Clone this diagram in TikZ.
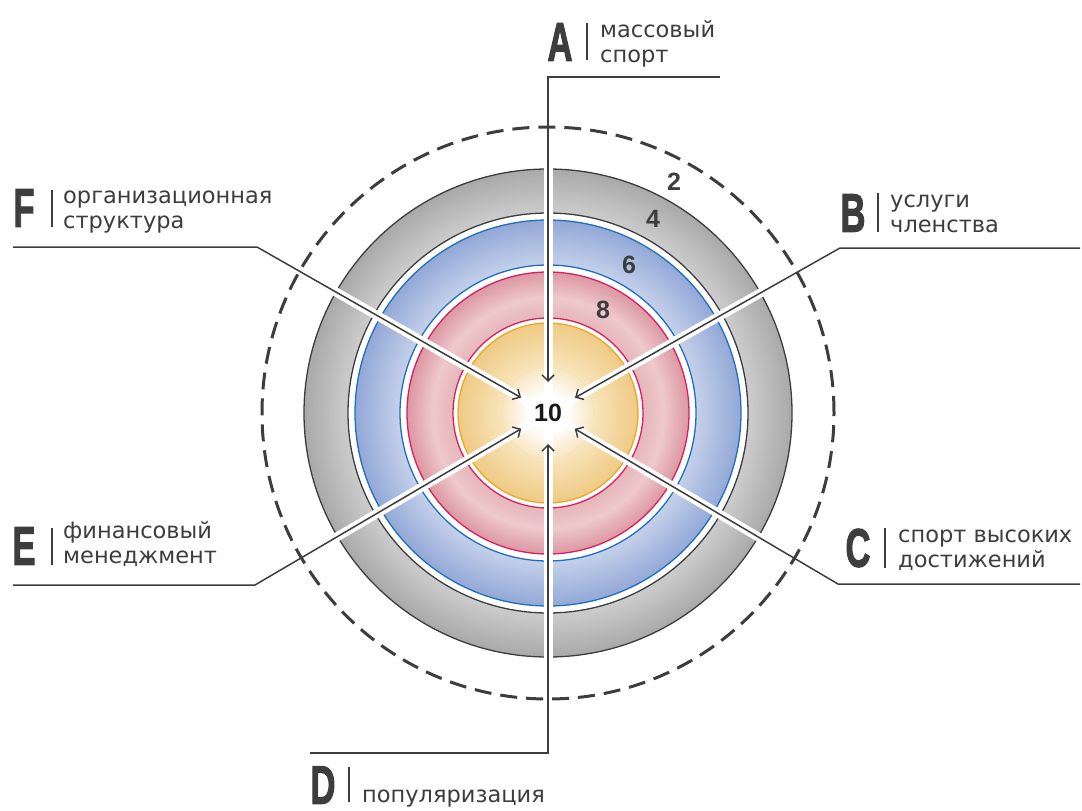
\documentclass[tikz,border=0pt]{standalone}
\usepackage{fontspec}
\setmainfont{DejaVu Sans}
\newfontfamily\capfont{Liberation Sans Bold}[FakeBold=2.5]
\newfontfamily\numfont{Liberation Sans Bold}
\usetikzlibrary{arrows.meta,calc}

\definecolor{inkD}{HTML}{3D3D3D}
\definecolor{grayD}{HTML}{A9A9A9}
\definecolor{grayL}{HTML}{D0D0D0}
\definecolor{blueD}{HTML}{93A8D7}
\definecolor{blueL}{HTML}{C6D2EB}
\definecolor{blueE}{HTML}{1F6FBF}
\definecolor{redD}{HTML}{DC97A3}
\definecolor{redM}{HTML}{E6B6BB}
\definecolor{redL}{HTML}{EEC9CB}
\definecolor{redE}{HTML}{D8205F}
\definecolor{yelD}{HTML}{EFCA84}
\definecolor{yelL}{HTML}{F7E2B6}
\definecolor{yelE}{HTML}{E8A92A}

% the circle's radius is 25bp of the shading
\pgfdeclareradialshading{ringGray}{\pgfpoint{0bp}{0bp}}{color(0bp)=(grayL); color(20bp)=(grayL); color(25bp)=(grayD); color(50bp)=(grayD)}
\pgfdeclareradialshading{ringBlue}{\pgfpoint{0bp}{0bp}}{color(0bp)=(blueL); color(19bp)=(blueL); color(25bp)=(blueD); color(50bp)=(blueD)}
\pgfdeclareradialshading{ringRed}{\pgfpoint{0bp}{0bp}}{color(0bp)=(redM); color(17bp)=(redM); color(20.5bp)=(redL); color(25bp)=(redD); color(50bp)=(redD)}
\pgfdeclareradialshading{ringYel}{\pgfpoint{0bp}{0bp}}{color(0bp)=(white); color(5bp)=(white); color(14bp)=(yelL); color(25bp)=(yelD); color(50bp)=(yelD)}

\begin{document}
\begin{tikzpicture}[x=1pt, y=-1pt,
    lbl/.style={font=\fontsize{22.5}{25}\selectfont, text=inkD, align=left, anchor=base west, inner sep=0pt},
    letr/.style={font=\capfont\fontsize{54}{54}\selectfont, text=inkD, xscale=0.64, inner sep=0pt},
    num/.style={font=\numfont\fontsize{25}{25}\selectfont, text=inkD, inner sep=0pt},
    bar/.style={draw=inkD, line width=1.2pt},
    gap/.style={draw=white, line width=9pt},
    con/.style={draw=inkD, line width=1.5pt, -{Straight Barb[length=6pt, width=12pt]}},
]
\useasboundingbox (0,0) rectangle (1082,811);
\coordinate (c) at (548,413);

% target rings
\draw[inkD, line width=3pt, dash pattern=on 17pt off 9pt] (c) circle[radius=286pt];
\draw[inkD, line width=1.3pt, shading=ringGray] (c) circle[radius=244pt];
\draw[inkD, line width=1.3pt, fill=white] (c) circle[radius=200pt];
\draw[blueE, line width=1.3pt, shading=ringBlue] (c) circle[radius=193pt];
\draw[blueE, line width=1.3pt, fill=white] (c) circle[radius=148pt];
\draw[redE, line width=1.3pt, shading=ringRed] (c) circle[radius=141pt];
\draw[redE, line width=1.3pt, fill=white] (c) circle[radius=95pt];
\draw[yelE, line width=1.3pt, shading=ringYel] (c) circle[radius=90pt];
\draw[yelE!45, densely dotted, line width=0.5pt] (c) circle[radius=46pt];

% bends and free ends of the connectors
\coordinate (kA) at (548,77);  \coordinate (eA) at (720,77);
\coordinate (kB) at (840,248); \coordinate (eB) at (1080,248);
\coordinate (kC) at (838,584); \coordinate (eC) at (1080,584);
\coordinate (kD) at (548,753); \coordinate (eD) at (310,753);
\coordinate (kE) at (255,585); \coordinate (eE) at (13,585);
\coordinate (kF) at (257,247); \coordinate (eF) at (13,247);

% white cuts and arrows
\foreach \s in {A,B,C,D,E,F} {
  \draw[gap] (c) -- ($(c)!250pt!(k\s)$);
  \coordinate (h\s) at ($(c)!31pt!(k\s)$);
}
\foreach \s in {A,B,C,D,E,F}
  \draw[con] (e\s) -- (k\s) -- (h\s);

% scores
\node[num] (n2) at (674,182) {2};
\node[num] (n4) at (653,219) {4};
\node[num] (n6) at (629,265) {6};
\node[num] (n8) at (603,310) {8};
\node[num, text=black!90] (n10) at (548,413) {10};

% labels (base = last line)
\node[letr] (lA) at (560,42) {A};
\draw[bar] (587,23) -- (587,60);
\node[lbl] (xA) at (600,62) {массовый\\спорт};

\node[letr] (lB) at (853,213) {B};
\draw[bar] (878,193) -- (878,232);
\node[lbl] (xB) at (890,232) {услуги\\членства};

\node[letr] (lC) at (858,548) {C};
\draw[bar] (885,528) -- (885,568);
\node[lbl] (xC) at (898,567) {спорт высоких\\достижений};

\node[letr] (lD) at (323,785) {D};
\draw[bar] (349,767) -- (349,802);
\node[lbl] (xD) at (362,802) {популяризация};

\node[letr] (lE) at (24,546) {E};
\draw[bar] (52,528) -- (52,565);
\node[lbl] (xE) at (63,563) {финансовый\\менеджмент};

\node[letr] (lF) at (24,208) {F};
\draw[bar] (52,190) -- (52,227);
\node[lbl] (xF) at (63,228) {организационная\\структура};
\end{tikzpicture}
\end{document}
